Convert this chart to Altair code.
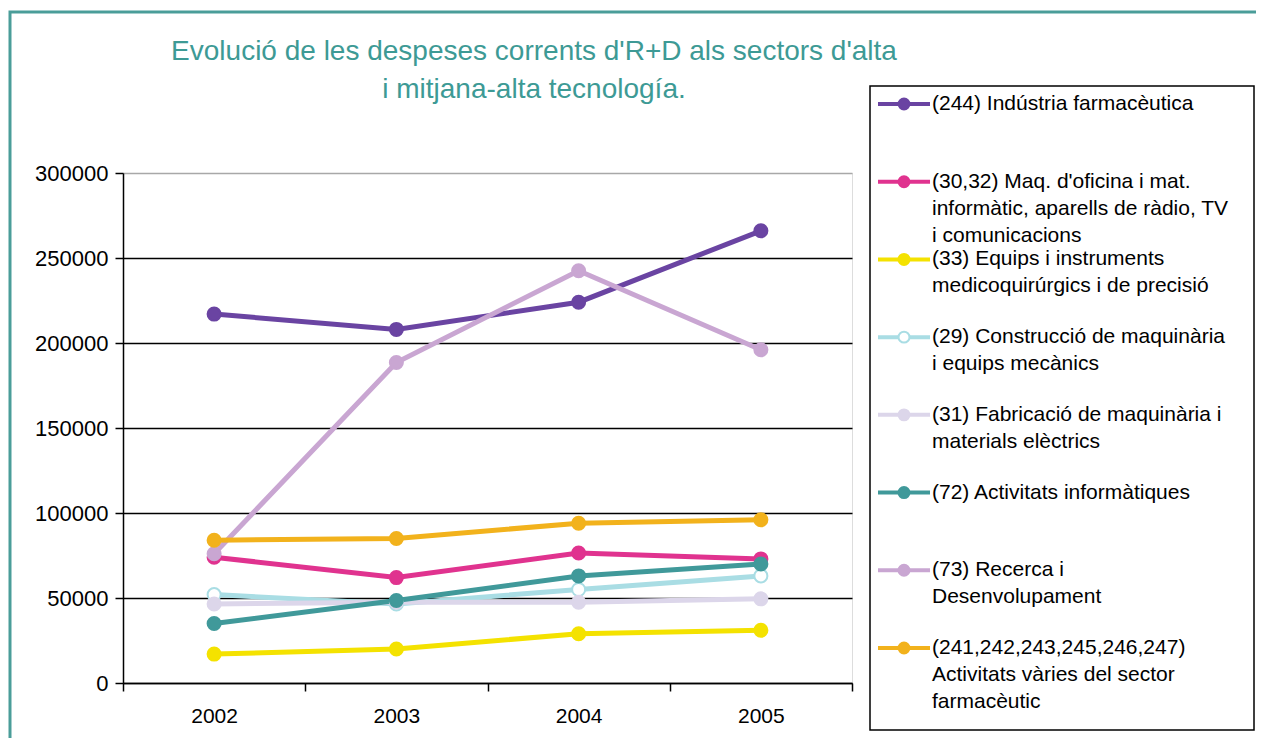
import altair as alt
import pandas as pd

years = ["2002", "2003", "2004", "2005"]

series = [
    "(244) Indústria farmacèutica",
    "(30,32) Maq. d'oficina i mat. informàtic, aparells de ràdio, TV i comunicacions",
    "(33) Equips i instruments medicoquirúrgics i de precisió",
    "(29) Construcció de maquinària i equips mecànics",
    "(31) Fabricació de maquinària i materials elèctrics",
    "(72) Activitats informàtiques",
    "(73) Recerca i Desenvolupament",
    "(241,242,243,245,246,247) Activitats vàries del sector farmacèutic",
]
legend_text = [
    "(244) Indústria farmacèutica",
    "(30,32) Maq. d'oficina i mat.\ninformàtic, aparells de ràdio, TV\ni comunicacions",
    "(33) Equips i instruments\nmedicoquirúrgics i de precisió",
    "(29) Construcció de maquinària\ni equips mecànics",
    "(31) Fabricació de maquinària i\nmaterials elèctrics",
    "(72) Activitats informàtiques",
    "(73) Recerca i\nDesenvolupament",
    "(241,242,243,245,246,247)\nActivitats vàries del sector\nfarmacèutic",
]
title_lines = ["Evolució de les despeses corrents d'R+D als sectors d'alta", "i mitjana-alta tecnología."]
colors = ["#6a44a2", "#e0338f", "#f4e200", "#a9dde4", "#dcd6ea", "#40999a", "#c9a6d2", "#f2b21c"]
fills = ["#6a44a2", "#e0338f", "#f4e200", "#ffffff", "#dcd6ea", "#40999a", "#c9a6d2", "#f2b21c"]

v244 = [217000, 208000, 224000, 266000]
v3032 = [74000, 62000, 76500, 73000]
v33 = [17000, 20000, 29000, 31000]
v29 = [52000, 46500, 55000, 63000]
v31 = [46500, 47500, 47500, 49500]
v72 = [35000, 48500, 63000, 70000]
v73 = [76000, 188500, 242500, 196000]
v241 = [84000, 85000, 94000, 96000]
values = [v244, v3032, v33, v29, v31, v72, v73, v241]

rows = []
for i, (s, vals) in enumerate(zip(series, values)):
    for y, v in zip(years, vals):
        rows.append({"serie": s, "year": y, "value": v, "fill": fills[i], "order": i})
df = pd.DataFrame(rows)

leg = pd.DataFrame({"serie": series, "label": legend_text, "idx": list(range(len(series))), "fill": fills})

FONT = "Liberation Sans"
W, H = 729, 510

color_scale = alt.Scale(domain=series, range=colors)

x_scale = alt.Scale(type="band", paddingInner=0, paddingOuter=0)
x_enc = alt.X(
    "year:O",
    scale=x_scale,
    bandPosition=0.5,
    axis=alt.Axis(
        title=None, labelAngle=0, tickBand="extent", tickSize=8, tickColor="black",
        domainColor="black", domainWidth=1.5, tickWidth=1.5, labelFontSize=21,
        labelPadding=14, labelColor="black", grid=False, labelFont=FONT,
    ),
)
y_scale = alt.Scale(domain=[0, 300000], nice=False)
y_enc = alt.Y(
    "value:Q",
    scale=y_scale,
    axis=alt.Axis(
        title=None, values=[0, 50000, 100000, 150000, 200000, 250000, 300000], format="d",
        grid=True, gridColor=alt.condition("datum.value >= 300000", alt.value("#a8a8a8"), alt.value("black")),
        gridWidth=1.5, tickSize=8, tickColor="black", tickWidth=1.5,
        domainColor="black", domainWidth=1.5, labelFontSize=22, labelPadding=7,
        labelColor="black", labelFont=FONT,
    ),
)

one = pd.DataFrame({"a": [0]})
tdf = pd.DataFrame({"t": ["\n".join(title_lines)]})

border = alt.Chart(one).mark_rect(filled=False, stroke="#4a9d99", strokeWidth=3).encode(
    x=alt.value(-113), x2=alt.value(1200), y=alt.value(-161), y2=alt.value(650)
)
title = alt.Chart(tdf).mark_text(
    align="center", baseline="middle", lineBreak="\n", fontSize=28, lineHeight=38,
    font=FONT, color="#3d9a95"
).encode(x=alt.value(411), y=alt.value(-121), text="t:N")

legend_box = alt.Chart(one).mark_rect(fill="white", stroke="black", strokeWidth=1.5).encode(
    x=alt.value(747), x2=alt.value(1131), y=alt.value(-87), y2=alt.value(557)
)

lines = alt.Chart(df).mark_line(strokeWidth=5).encode(
    x=x_enc, y=y_enc,
    color=alt.Color("serie:N", scale=color_scale, legend=None),
    order=alt.Order("order:Q"),
)
points = alt.Chart(df).mark_point(shape="circle", size=170, strokeWidth=2, opacity=1).encode(
    x=x_enc, y=alt.Y("value:Q", scale=y_scale, axis=None),
    stroke=alt.Color("serie:N", scale=color_scale, legend=None),
    fill=alt.Fill("fill:N", scale=None),
)

leg_y = alt.Y("idx:Q", scale=alt.Scale(domain=[0, 7], range=[-69, 475], nice=False, zero=False), axis=None)

leg_lines = alt.Chart(leg).mark_rule(strokeWidth=4).encode(
    x=alt.value(755), x2=alt.value(807), y=leg_y,
    color=alt.Color("serie:N", scale=color_scale, legend=None),
)
leg_pts = alt.Chart(leg).mark_point(shape="circle", size=120, strokeWidth=2, opacity=1).encode(
    x=alt.value(781), y=leg_y,
    stroke=alt.Color("serie:N", scale=color_scale, legend=None),
    fill=alt.Fill("fill:N", scale=None),
)
leg_text = alt.Chart(leg).mark_text(
    align="left", baseline="top", lineBreak="\n", fontSize=21, lineHeight=27, dy=-11, font=FONT, color="black"
).encode(x=alt.value(809), y=leg_y, text="label:N")

chart = (
    alt.layer(border, title, legend_box, lines, points, leg_lines, leg_pts, leg_text)
    .resolve_scale(y="independent")
    .properties(
        width=W, height=H,
        autosize=alt.AutoSizeParams(type="none"),
        padding={"left": 115, "top": 165, "right": 404, "bottom": 55},
    )
    .configure_view(stroke="#a8a8a8", strokeWidth=1)
    .configure(font=FONT, background="white")
)

chart.save("out.html", embed_options={"renderer": "svg", "actions": False})
